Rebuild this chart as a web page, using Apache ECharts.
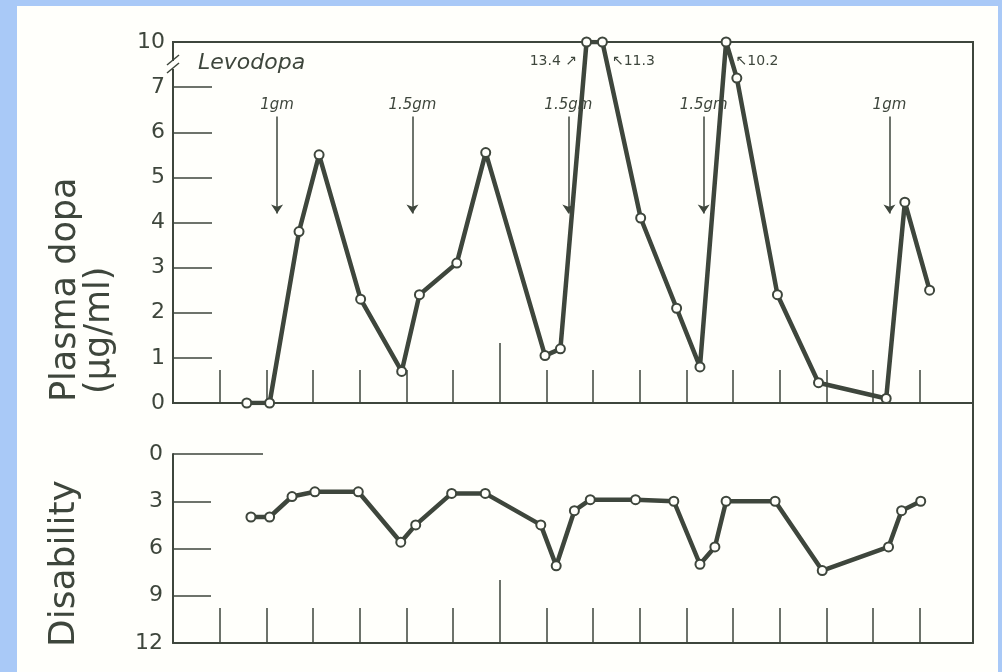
<!DOCTYPE html>
<html><head><meta charset="utf-8">
<script src="https://cdn.jsdelivr.net/npm/echarts@6.0.0/dist/echarts.min.js"></script>
<style>
html,body{margin:0;padding:0;background:#a9c9f7;overflow:hidden;}
#paper{position:absolute;left:17px;top:6px;width:981px;height:666px;background:#fffffb;}
#chart{position:absolute;left:0;top:0;width:1002px;height:672px;}
</style></head><body><div id="paper"></div><div id="chart"></div>
<script>
// ---- data (hours after start) ----
const plasmaTime  = [1.58, 2.07, 2.70, 3.13, 4.02, 4.90, 5.28, 6.08, 6.70, 7.97, 8.30, 8.86, 9.20, 10.02, 10.79, 11.29, 11.85, 12.08, 12.95, 13.83, 15.28, 15.68, 16.21];
const plasmaLevel = [0, 0, 3.8, 5.5, 2.3, 0.7, 2.4, 3.1, 5.55, 1.05, 1.2, 13.4, 11.3, 4.1, 2.1, 0.8, 10.2, 7.2, 2.4, 0.45, 0.1, 4.45, 2.5];
const disabilityTime  = [1.67, 2.07, 2.55, 3.04, 3.97, 4.88, 5.20, 5.97, 6.69, 7.88, 8.21, 8.60, 8.94, 9.91, 10.73, 11.29, 11.61, 11.85, 12.90, 13.91, 15.33, 15.61, 16.02];
const disabilityScore = [4, 4, 2.7, 2.4, 2.4, 5.6, 4.5, 2.5, 2.5, 4.5, 7.1, 3.6, 2.9, 2.9, 3.0, 7.0, 5.9, 3.0, 3.0, 7.4, 5.9, 3.6, 3.0];
const doseTime  = [2.23, 5.13, 8.47, 11.37, 15.35];
const doseLabel = ['1gm', '1.5gm', '1.5gm', '1.5gm', '1gm'];
const plasmaTickLabels = [0, 1, 2, 3, 4, 5, 6, 7, 10];
const disabilityTickLabels = [0, 3, 6, 9, 12];
const hourTicks = [1, 2, 3, 4, 5, 6, 7, 8, 9, 10, 11, 12, 13, 14, 15, 16];
const longHourTicks = [7];

// ---- layout / style ----
const INK = '#3e463c';
const W = 1002, H = 672;
const LEFT = 173, RIGHT = 29, G1_TOP = 42, G1_H = 361, G2_TOP = 454, G2_BOTTOM = 29;
const X_MAX = 17.14;
const BREAK_TOP = 10, AXIS_TOP = 8;   // axis broken between 7 and 10; 10 sits at the frame top
function toAxis(v) { return v >= BREAK_TOP ? AXIS_TOP : v; }
function fromAxis(a) { return a >= AXIS_TOP ? BREAK_TOP : a; }

const peakSide = ['left', 'right', 'right'];
let peakCount = 0;
const plasmaData = plasmaTime.map((t, i) => {
  const v = plasmaLevel[i];
  const d = { value: [t, toAxis(v)] };
  if (v > BREAK_TOP) {
    const side = peakSide[peakCount++] || 'right';
    d.label = {
      show: true, position: side, distance: 4, offset: [0, 19],
      formatter: side === 'left' ? (v + ' \u2197') : ('\u2196' + v),
      fontSize: 14, color: INK, fontFamily: 'DejaVu Sans'
    };
  }
  return d;
});
const disabilityData = disabilityTime.map((t, i) => [t, disabilityScore[i]]);

const chart = echarts.init(document.getElementById('chart'), null, { renderer: 'canvas' });
const axisFont = { fontFamily: 'DejaVu Sans', fontSize: 22, color: INK };

function xAxisDef(grid, ticks, len, showLine) {
  return {
    type: 'value', gridIndex: grid, min: 0, max: X_MAX, position: 'bottom',
    axisLine: { show: showLine, onZero: false, lineStyle: { color: INK, width: 2 } },
    axisTick: { show: true, inside: true, length: len, customValues: ticks, lineStyle: { color: INK, width: 1.5 } },
    axisLabel: { show: false }, splitLine: { show: false }
  };
}

const option = {
  animation: false,
  backgroundColor: 'transparent',
  grid: [
    { left: LEFT, right: RIGHT, top: G1_TOP, height: G1_H, show: true, borderColor: INK, borderWidth: 2, backgroundColor: 'transparent' },
    { left: LEFT, right: RIGHT, top: G2_TOP, bottom: G2_BOTTOM, show: false }
  ],
  xAxis: [
    xAxisDef(0, hourTicks, 33, true),
    xAxisDef(0, longHourTicks, 60, false),
    xAxisDef(1, hourTicks, 35, true),
    xAxisDef(1, longHourTicks, 63, false)
  ],
  yAxis: [
    {
      type: 'value', gridIndex: 0, min: 0, max: AXIS_TOP, position: 'left',
      axisLine: { show: true, onZero: false, lineStyle: { color: INK, width: 2 } },
      axisTick: { show: true, inside: true, length: 39, customValues: [1, 2, 3, 4, 5, 6, 7], lineStyle: { color: INK, width: 1.5 } },
      axisLabel: Object.assign({ show: true, margin: 8, customValues: plasmaTickLabels.map(toAxis), formatter: v => String(fromAxis(v)) }, axisFont),
      splitLine: { show: false }
    },
    {
      type: 'value', gridIndex: 1, min: 0, max: 12, inverse: true, position: 'left',
      axisLine: { show: true, onZero: false, lineStyle: { color: INK, width: 2 } },
      axisTick: { show: true, inside: true, length: 38, customValues: [3, 6, 9], lineStyle: { color: INK, width: 1.5 } },
      axisLabel: Object.assign({ show: true, margin: 10, customValues: disabilityTickLabels }, axisFont),
      splitLine: { show: false }
    },
    {
      type: 'value', gridIndex: 1, min: 0, max: 12, inverse: true, position: 'left',
      axisLine: { show: false, onZero: false },
      axisTick: { show: true, inside: true, length: 90, customValues: [0], lineStyle: { color: INK, width: 1.5 } },
      axisLabel: { show: false }, splitLine: { show: false }
    },
    {
      type: 'value', gridIndex: 1, min: 0, max: 12, inverse: true, position: 'right',
      axisLine: { show: true, onZero: false, lineStyle: { color: INK, width: 2 } },
      axisTick: { show: false }, axisLabel: { show: false }, splitLine: { show: false }
    }
  ],
  series: [
    {
      type: 'line', xAxisIndex: 0, yAxisIndex: 0, data: plasmaData, z: 5,
      lineStyle: { color: INK, width: 4.5 },
      symbol: 'circle', symbolSize: 9, showAllSymbol: true,
      itemStyle: { color: '#fffffb', borderColor: INK, borderWidth: 2 },
      label: { show: false },
      markLine: {
        silent: true, symbol: ['none', 'arrow'], symbolSize: 9, animation: false,
        lineStyle: { color: INK, width: 1.5, type: 'solid' },
        label: { show: true, position: 'start', formatter: '{b}', fontFamily: 'DejaVu Sans', fontStyle: 'italic', fontSize: 15, color: INK, distance: 4 },
        data: doseTime.map((t, i) => [{ coord: [t, 6.35], name: doseLabel[i] }, { coord: [t, 4.2] }])
      }
    },
    {
      type: 'line', xAxisIndex: 2, yAxisIndex: 1, data: disabilityData, z: 5,
      lineStyle: { color: INK, width: 4.5 },
      symbol: 'circle', symbolSize: 9, showAllSymbol: true,
      itemStyle: { color: '#fffffb', borderColor: INK, borderWidth: 2 }
    }
  ],
  graphic: [
    { type: 'text', left: 198, top: 52, style: { text: 'Levodopa', fontFamily: 'DejaVu Sans', fontStyle: 'italic', fontSize: 22, fill: INK } },
    { type: 'text', x: 66, y: G1_TOP + G1_H - 1, rotation: Math.PI / 2, style: { text: 'Plasma dopa', fontFamily: 'DejaVu Sans', fontSize: 35, fill: INK, align: 'left', verticalAlign: 'middle' } },
    { type: 'text', x: 100, y: G1_TOP + G1_H - 9, rotation: Math.PI / 2, style: { text: '(\u00b5g/ml)', fontFamily: 'DejaVu Sans', fontSize: 35, fill: INK, align: 'left', verticalAlign: 'middle' } },
    { type: 'text', x: 65, y: H - 25, rotation: Math.PI / 2, style: { text: 'Disability', fontFamily: 'DejaVu Sans', fontSize: 36, fill: INK, align: 'left', verticalAlign: 'middle' } },
    // right frame between the two panels
    { type: 'line', shape: { x1: W - RIGHT, y1: G1_TOP + G1_H, x2: W - RIGHT, y2: G2_TOP }, style: { stroke: INK, lineWidth: 2 } },
    // axis break mark
    { type: 'rect', shape: { x: LEFT - 3, y: G1_TOP + 19, width: 6, height: 8 }, style: { fill: '#fffffb' }, z: 10 },
    { type: 'line', shape: { x1: LEFT - 6, y1: G1_TOP + 23, x2: LEFT + 6, y2: G1_TOP + 13 }, style: { stroke: INK, lineWidth: 1.5 }, z: 11 },
    { type: 'line', shape: { x1: LEFT - 6, y1: G1_TOP + 31, x2: LEFT + 6, y2: G1_TOP + 21 }, style: { stroke: INK, lineWidth: 1.5 }, z: 11 }
  ]
};
chart.setOption(option);
</script></body></html>
